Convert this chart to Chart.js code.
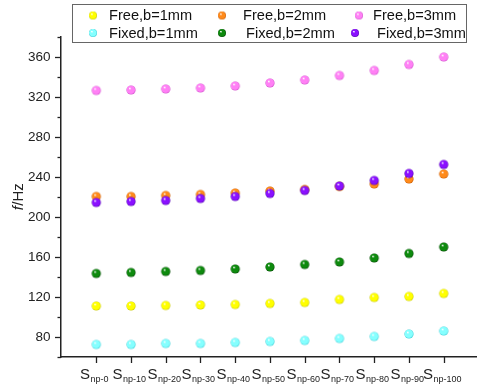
<!DOCTYPE html>
<html>
<head>
<meta charset="utf-8">
<script src="https://cdn.jsdelivr.net/npm/chart.js@4/dist/chart.umd.min.js"></script>
<style>
html,body{margin:0;padding:0;background:#fff;overflow:hidden}
#wrap{width:481px;height:389px;position:relative}
</style>
</head>
<body>
<div id="wrap"><canvas id="c"></canvas></div>
<script>
// categories (x) and tick labels
const cats = ['0','10','20','30','40','50','60','70','80','90','100'];
const yTicks = [80,120,160,200,240,280,320,360];

// series (Hz)
const free1 = [111,111,111.5,112,112.5,113.5,114.5,117.5,119.5,120.5,123.5];
const free2 = [220.5,220.5,221.5,222.5,224,226,227.5,230.5,233,238,243];
const free3 = [326.5,327,328,329,331,334,337,341.5,346.5,352.5,360];
const fixed1 = [72.5,72.5,73.5,73.5,74.5,75.5,76.5,78.5,80.5,83,86];
const fixed2 = [143.5,144.5,145.5,146.5,148,150,152.5,155,159,163.5,170];
const fixed3 = [214.5,215.5,216.5,218.5,220.5,223.5,226.5,231,236.5,243.5,252.5];

const labels = ['Free,b=1mm','Free,b=2mm','Free,b=3mm','Fixed,b=1mm','Fixed,b=2mm','Fixed,b=3mm'];
const series = [free1,free2,free3,fixed1,fixed2,fixed3];
const colors = [['#ffff00','#c8c800'],['#ff8a1a','#c85a00'],['#ff80f5','#d050cc'],
                ['#85ffff','#40d0d8'],['#0e8a0e','#004800'],['#8a10ff','#5000b0']];

function ball(col, r){
  const s = Math.ceil(r*2+2), c = document.createElement('canvas');
  c.width = c.height = s;
  const g = c.getContext('2d'), m = s/2;
  const gr = g.createRadialGradient(m-r*0.3, m-r*0.4, r*0.05, m, m, r);
  gr.addColorStop(0,'#ffffff');
  gr.addColorStop(0.28,col[0]);
  gr.addColorStop(0.8,col[0]);
  gr.addColorStop(1,col[1]);
  g.fillStyle = gr;
  g.beginPath(); g.arc(m,m,r,0,Math.PI*2); g.fill();
  return c;
}

const balls = colors.map(c=>ball(c,4.6));
const legBalls = colors.map(c=>ball(c,4));

const font = 'Liberation Sans, Arial, sans-serif';

const extras = {
  id:'extras',
  afterDraw(chart){
    const ctx = chart.ctx, xs = chart.scales.x, ys = chart.scales.y, a = chart.chartArea;
    ctx.save();
    ctx.strokeStyle = '#222'; ctx.lineWidth = 1.3; ctx.fillStyle = '#222';
    // y ticks, major + minor
    for(let v=60; v<=380; v+=20){
      const y = Math.round(ys.getPixelForValue(v))+0.5;
      const len = yTicks.includes(v) ? 6 : 3.5;
      ctx.beginPath(); ctx.moveTo(a.left-len,y); ctx.lineTo(a.left,y); ctx.stroke();
    }
    ctx.font = '13.5px '+font; ctx.textAlign='right'; ctx.textBaseline='middle';
    yTicks.forEach(v=>ctx.fillText(String(v), 50.5, ys.getPixelForValue(v)));
    // x ticks + labels with subscript
    cats.forEach((c,i)=>{
      const x = Math.round(xs.getPixelForValue(i))+0.5;
      ctx.beginPath(); ctx.moveTo(x,a.bottom); ctx.lineTo(x,a.bottom+6); ctx.stroke();
      const sub = 'np-'+c;
      ctx.font = '15px '+font; const w1 = ctx.measureText('S').width;
      ctx.font = '9px '+font; const w2 = ctx.measureText(sub).width;
      const x0 = x - 2.5 - (w1+w2)/2;
      ctx.textAlign='left'; ctx.textBaseline='alphabetic';
      ctx.font = '15px '+font; ctx.fillText('S', x0, 378.5);
      ctx.font = '9px '+font; ctx.fillText(sub, x0+w1+0.5, 382);
    });
    // y title: f/Hz with italic f
    ctx.save();
    ctx.translate(23, 197); ctx.rotate(-Math.PI/2);
    ctx.textBaseline='alphabetic'; ctx.textAlign='left';
    ctx.font = 'italic 15px '+font; const wf = ctx.measureText('f').width;
    ctx.font = '15px '+font; const wr = ctx.measureText('/Hz').width;
    const sx = -(wf+wr)/2;
    ctx.font = 'italic 15px '+font; ctx.fillText('f', sx, 0);
    ctx.font = '15px '+font; ctx.fillText('/Hz', sx+wf+0.5, 0);
    ctx.restore();
    // legend box
    ctx.fillStyle = '#fff'; ctx.fillRect(72.5,4.5,394,38);
    ctx.strokeStyle = '#666'; ctx.lineWidth = 1;
    ctx.strokeRect(72.5,4.5,394,38);
    const dotX = [93,222,359, 93,222,355];
    const txtX = [109,243,373, 109,246,377];
    ctx.fillStyle = '#111'; ctx.font = '14.6px '+font;
    ctx.textAlign='left'; ctx.textBaseline='middle';
    labels.forEach((l,i)=>{
      const y = i<3 ? 15.5 : 33;
      const b = legBalls[i];
      ctx.drawImage(b, dotX[i]-b.width/2, y-b.height/2);
      ctx.fillText(l, txtX[i], y+0.5);
    });
    ctx.restore();
  }
};

new Chart(document.getElementById('c'),{
  type:'scatter',
  data:{
    datasets: labels.map((l,i)=>({
      label:l,
      data: series[i].map((v,k)=>({x:k,y:v})),
      pointStyle: balls[i],
      order: i>=3 ? 0 : 1,
      showLine:false
    }))
  },
  options:{
    responsive:true, maintainAspectRatio:false, animation:false,
    layout:{padding:{top:37,left:0,right:0,bottom:0}},
    plugins:{legend:{display:false},tooltip:{enabled:false}},
    scales:{
      x:{type:'linear',min:-1.015,max:10.93,
         ticks:{display:false},grid:{display:false},
         border:{display:true,color:'#222',width:1.5},
         afterFit(s){s.height=32;}},
      y:{min:60,max:380,
         ticks:{display:false},grid:{display:false},
         border:{display:true,color:'#222',width:1.5},
         afterFit(s){s.width=61;}}
    }
  },
  plugins:[extras]
});
</script>
</body>
</html>
